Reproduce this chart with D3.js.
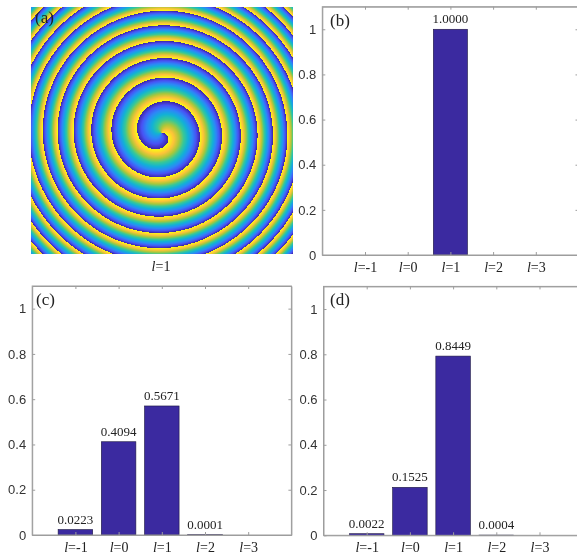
<!DOCTYPE html>
<html>
<head>
<meta charset="utf-8">
<script src="https://cdn.jsdelivr.net/npm/d3@7"></script>
<style>
  body { margin: 0; background: #fff; }
  #fig { position: relative; width: 577px; height: 557px; overflow: hidden; }
  #fig canvas { position: absolute; }
  #fig svg { position: absolute; left: 0; top: 0; }
  .yax text { font-family: "Liberation Sans", Arial, sans-serif; font-size: 13px; fill: #333; }
  .xlab, .val, .tag { font-family: "Liberation Serif", "Times New Roman", serif; fill: #222; }
</style>
</head>
<body>
<div id="fig"></div>
<script>
// orbital angular momentum orders on the x axis
var orders = [-1, 0, 1, 2, 3];
var yTicks = [0, 0.2, 0.4, 0.6, 0.8, 1];

// bar heights as drawn, and the printed values above them
var barsB = [0, 0, 1.0, 0, 0];
var textB = ["", "", "1.0000", "", ""];
var barsC = [0.024, 0.412, 0.570, 0.0015, 0];
var textC = ["0.0223", "0.4094", "0.5671", "0.0001", ""];
var barsD = [0.007, 0.212, 0.792, 0.001, 0];
var textD = ["0.0022", "0.1525", "0.8449", "0.0004", ""];

// spiral phase plate, panel (a)
var charge = 1;
var ringScale = 38.1, ringPower = 1.5, phaseOffset = 0;

// parula colormap
var parulaStops = [0, 1/7, 2/7, 3/7, 4/7, 5/7, 6/7, 1];
var parulaColors = ["#3e26a8", "#4852f4", "#2d87f7", "#11b1d6", "#37c897", "#abc739", "#fec338", "#f9fb15"];

var barColor = "#3b2aa0";
var axisColor = "#9d9d9d";

var fig = d3.select("#fig");

/* ---- panel (a): phase image ---- */
var imgBox = {left: 30.5, top: 7, width: 262, height: 247};
var cx = 161 - imgBox.left, cy = 133 - imgBox.top;

var canvas = fig.append("canvas")
    .attr("width", imgBox.width)
    .attr("height", imgBox.height)
    .style("left", imgBox.left + "px")
    .style("top", imgBox.top + "px");
var ctx = canvas.node().getContext("2d");
var img = ctx.createImageData(imgBox.width, imgBox.height);

var color = d3.scaleLinear()
    .domain(parulaStops)
    .range(parulaColors)
    .interpolate(d3.interpolateRgb);
var lut = d3.range(256).map(function(i) { return d3.rgb(color(i / 255)); });

for (var y = 0; y < imgBox.height; y++) {
  for (var x = 0; x < imgBox.width; x++) {
    var dx = x + 0.5 - cx, dy = y + 0.5 - cy;
    var r = Math.sqrt(dx * dx + dy * dy);
    var th = Math.atan2(dy, dx);
    var ph = charge * (th - phaseOffset) / (2 * Math.PI) - Math.pow(r / ringScale, ringPower);
    var f = ph - Math.floor(ph);
    var c = lut[Math.min(255, Math.floor(f * 256))];
    var k = (y * imgBox.width + x) * 4;
    img.data[k] = c.r; img.data[k + 1] = c.g; img.data[k + 2] = c.b; img.data[k + 3] = 255;
  }
}
ctx.putImageData(img, 0, 0);

var svg = fig.append("svg").attr("width", 577).attr("height", 557);

svg.append("text")
    .attr("class", "tag")
    .attr("x", 35).attr("y", 23)
    .style("font-size", "17px")
    .text("(a)");

var aLabel = svg.append("text")
    .attr("class", "xlab")
    .attr("x", imgBox.left + cx).attr("y", 271)
    .attr("text-anchor", "middle")
    .style("font-size", "14px");
aLabel.append("tspan").style("font-style", "italic").text("l");
aLabel.append("tspan").text("=" + charge);

/* ---- bar panels ---- */
var panels = [
  {tag: "(b)", tagX: 330, bars: barsB, text: textB, left: 322.3, right: 578.5, top: 6.7, bottom: 255},
  {tag: "(c)", tagX: 36, bars: barsC, text: textC, left: 32.2, right: 291.4, top: 286, bottom: 535},
  {tag: "(d)", tagX: 330, bars: barsD, text: textD, left: 323.5, right: 582.7, top: 286.4, bottom: 535.3}
];

panels.forEach(function(p) {
  var xs = d3.scaleLinear().domain([-2, 4]).range([p.left, p.right]);
  var ys = d3.scaleLinear().domain([0, 1.1]).range([p.bottom, p.top]);
  var bw = xs(0.8) - xs(0);

  var g = svg.append("g");

  // bars
  var data = orders.map(function(o, i) { return {o: o, v: p.bars[i], t: p.text[i]}; });
  g.selectAll(".bar")
      .data(data.filter(function(d) { return d.v > 0; }))
      .enter()
      .append("rect")
      .attr("class", "bar")
      .attr("x", function(d) { return xs(d.o) - bw / 2; })
      .attr("y", function(d) { return ys(d.v); })
      .attr("width", bw)
      .attr("height", function(d) { return Math.max(0.6, ys(0) - ys(d.v)); })
      .attr("fill", barColor)
      .attr("stroke", "#1c1640")
      .attr("stroke-width", 0.6);

  g.selectAll(".val")
      .data(data.filter(function(d) { return d.t !== ""; }))
      .enter()
      .append("text")
      .attr("class", "val")
      .attr("x", function(d) { return xs(d.o); })
      .attr("y", function(d) { return ys(d.v) - 6; })
      .attr("text-anchor", "middle")
      .style("font-size", "13px")
      .text(function(d) { return d.t; });

  // axes with inward ticks on all four sides
  g.append("g").attr("class", "yax")
      .attr("transform", "translate(" + p.left + ",0)")
      .call(d3.axisLeft(ys).tickValues(yTicks).tickSizeInner(-3).tickSizeOuter(0).tickPadding(6)
            .tickFormat(d3.format("~g")));
  g.append("g")
      .attr("transform", "translate(" + p.right + ",0)")
      .call(d3.axisRight(ys).tickValues(yTicks).tickSizeInner(-3).tickSizeOuter(0).tickFormat(""));
  var bottom = g.append("g")
      .attr("transform", "translate(0," + p.bottom + ")")
      .call(d3.axisBottom(xs).tickValues(orders).tickSizeInner(-3).tickSizeOuter(0).tickFormat(""));
  g.append("g")
      .attr("transform", "translate(0," + p.top + ")")
      .call(d3.axisTop(xs).tickValues(orders).tickSizeInner(-3).tickSizeOuter(0).tickFormat(""));

  g.selectAll(".domain").attr("stroke", axisColor);
  g.selectAll(".tick line").attr("stroke", axisColor);

  // x tick labels with italic l
  bottom.selectAll(".tick").each(function(o) {
    var t = d3.select(this).append("text")
        .attr("class", "xlab")
        .attr("y", 16.5)
        .attr("text-anchor", "middle")
        .style("font-size", "14px");
    t.append("tspan").style("font-style", "italic").text("l");
    t.append("tspan").text("=" + o);
  });

  g.append("rect")
      .attr("x", p.left).attr("y", p.top)
      .attr("width", p.right - p.left).attr("height", p.bottom - p.top)
      .attr("fill", "none")
      .attr("stroke", axisColor);

  g.append("text")
      .attr("class", "tag")
      .attr("x", p.tagX).attr("y", p.top + 19)
      .style("font-size", "17px")
      .text(p.tag);
});
</script>
</body>
</html>
